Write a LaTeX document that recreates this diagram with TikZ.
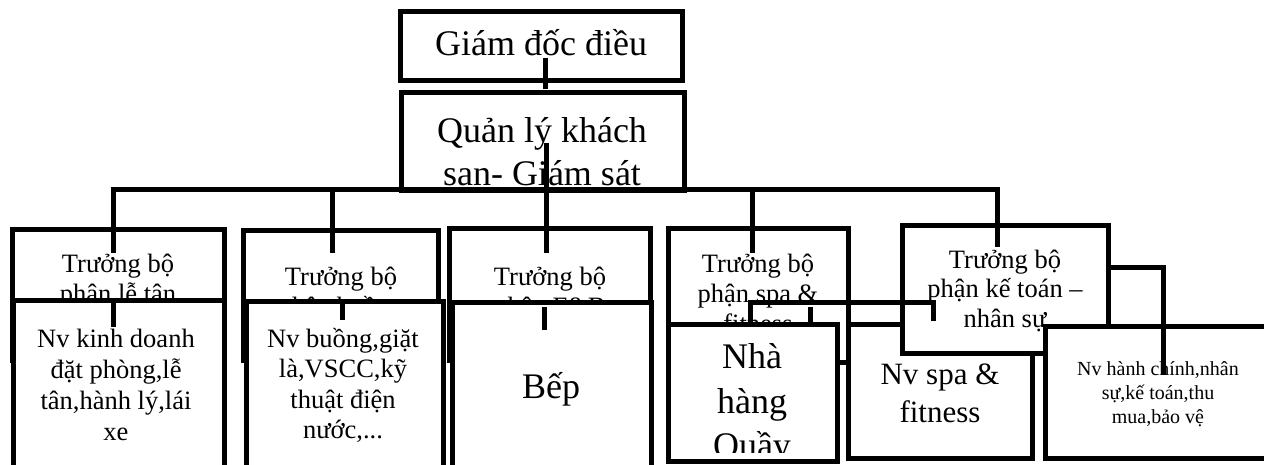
\documentclass[tikz,border=0pt]{standalone}
\usepackage{fontspec}
\setmainfont{Liberation Serif}
\begin{document}
\begin{tikzpicture}[x=1pt,y=-1pt,
  box/.style={draw, line width=5pt, fill=white, inner sep=0pt, outer sep=0pt, anchor=north west},
  wire/.style={line width=5pt, line join=miter},
  lbl/.style={inner sep=0pt, outer sep=0pt, anchor=base},
  big/.style={lbl, font=\fontsize{36pt}{43pt}\selectfont},
  mid/.style={lbl, font=\fontsize{26.5pt}{30pt}\selectfont},
  spafont/.style={lbl, font=\fontsize{31pt}{37pt}\selectfont},
  small/.style={lbl, font=\fontsize{20pt}{24pt}\selectfont}]
\path[use as bounding box] (0,0) rectangle (1264,464);
\clip (0,0) rectangle (1264,464);
\fill[white] (0,0) rectangle (1264,464);

% top management
\node[box, minimum width=282pt, minimum height=69pt] (gd) at (400,11) {};
\node[big] (gdA) at (541,55) {Giám đốc điều};
\node[box, minimum width=283pt, minimum height=98pt] (qm) at (401,92) {};
\node[big] (qmA) at (542,142) {Quản lý khách};
\node[big] (qmB) at (542,185) {san- Giám sát};

% department heads
\node[box, minimum width=212pt, minimum height=131pt] (t1) at (12,229) {};
\node[mid] (t1A) at (118,272) {Trưởng bộ};
\node[mid] (t1B) at (118,302) {phận lễ tân};
\node[box, minimum width=195pt, minimum height=130pt] (t2) at (243,230) {};
\node[mid] (t2A) at (341,285) {Trưởng bộ};
\node[mid] (t2B) at (341,315) {phận buồng};
\node[box, minimum width=201pt, minimum height=132pt] (t3) at (449,228) {};
\node[mid] (t3A) at (550,285) {Trưởng bộ};
\node[mid] (t3B) at (550,315) {phận F\&B};
\node[box, minimum width=180pt, minimum height=134pt] (t4) at (668,228) {};
\node[mid] (t4A) at (758,272) {Trưởng bộ};
\node[mid] (t4B) at (758,302) {phận spa \&};
\node[mid] (t4C) at (758,332) {fitness};

% staff boxes
\node[box, minimum width=211pt, minimum height=180pt] (n1) at (13,300) {};
\node[mid] (n1A) at (116,347) {Nv kinh doanh};
\node[mid] (n1B) at (116,378) {đặt phòng,lễ};
\node[mid] (n1C) at (116,409) {tân,hành lý,lái};
\node[mid] (n1D) at (116,440) {xe};
\node[box, minimum width=197pt, minimum height=180pt] (n2) at (246,301) {};
\node[mid] (n2A) at (343,347) {Nv buồng,giặt};
\node[mid] (n2B) at (343,377) {là,VSCC,kỹ};
\node[mid] (n2C) at (343,408) {thuật điện};
\node[mid] (n2D) at (343,438) {nước,...};
\node[box, minimum width=199pt, minimum height=180pt] (bep) at (452,302) {};
\node[big] (bepA) at (551,398) {Bếp};
\node[box, minimum width=169pt, minimum height=137pt] (nh) at (668,324) {};
\begin{scope}
  \clip (670,327) rectangle (835,452);
  \node[big] (nhA) at (752,368) {Nhà};
  \node[big] (nhB) at (752,413) {hàng};
  \node[big] (nhC) at (752,457) {Quầy};
\end{scope}
\node[box, minimum width=184pt, minimum height=134pt] (ns) at (848,324) {};
\node[spafont] (nsA) at (940,384) {Nv spa \&};
\node[spafont] (nsB) at (940,422) {fitness};
\node[box, minimum width=206pt, minimum height=128pt] (kt) at (902,225) {};
\node[mid] (ktA) at (1005,268) {Trưởng bộ};
\node[mid] (ktB) at (1005,297) {phận kế toán –};
\node[mid] (ktC) at (1005,327) {nhân sự};
\node[box, minimum width=230pt, minimum height=132pt] (hc) at (1045,326) {};
\node[small] (hcA) at (1158,375) {Nv hành chính,nhân};
\node[small] (hcB) at (1158,399) {sự,kế toán,thu};
\node[small] (hcC) at (1158,423) {mua,bảo vệ};

% connectors
\coordinate (gdOut) at (545,58);
\coordinate (qmIn) at (545,89);
\draw[wire] (gdOut) -- (qmIn);
\coordinate (qmOut) at (546,143);
\coordinate (t3In) at (546,253);
\draw[wire] (qmOut) -- (t3In);
\coordinate (t1In) at (113,253);
\coordinate (busL) at (113,189);
\coordinate (busR) at (997,189);
\coordinate (ktIn) at (997,247);
\draw[wire] (t1In) -- (busL) -- (busR) -- (ktIn);
\coordinate (t2In) at (332,253);
\draw[wire] (332,189) -- (t2In);
\coordinate (t4In) at (752,253);
\draw[wire] (752,189) -- (t4In);

\coordinate (n1In) at (113,327);
\draw[wire] (113,301) -- (n1In);
\coordinate (n2In) at (342,320);
\draw[wire] (342,301) -- (n2In);
\coordinate (bepIn) at (544,330);
\draw[wire] (544,307) -- (bepIn);

\coordinate (spaOut) at (810,307);
\coordinate (spaStub) at (810,327);
\draw[wire] (spaOut) -- (spaStub);
\coordinate (nhIn) at (750,325);
\coordinate (nsIn) at (933,321);
\draw[wire] (nhIn) -- (750,302) -- (933,302) -- (nsIn);

\coordinate (ktOut) at (1108,267);
\coordinate (hcIn) at (1163,375);
\draw[wire] (ktOut) -- (1163,267) -- (hcIn);
\end{tikzpicture}
\end{document}
